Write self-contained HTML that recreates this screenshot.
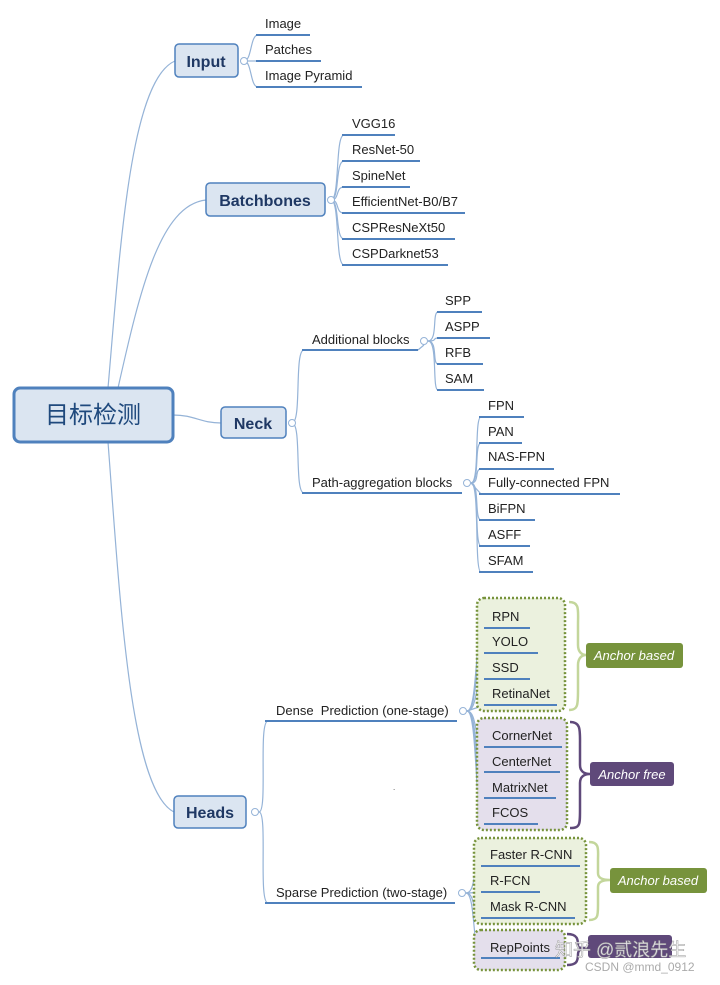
<!DOCTYPE html>
<html><head><meta charset="utf-8"><style>
html,body{margin:0;padding:0;background:#fff;}
svg text{font-family:"Liberation Sans","Noto Sans CJK SC",sans-serif;}
</style></head><body>
<svg width="720" height="980" viewBox="0 0 720 980" xmlns="http://www.w3.org/2000/svg">
<g fill="none" stroke="#95b3d7" stroke-width="1.2">
<path d="M108 388 C120 250 130 80 175 61"/>
<path d="M118 388 C140 290 160 205 206 200"/>
<path d="M173 415 C195 415 200 423 221 423"/>
<path d="M108 442 C120 600 130 790 174 812"/>
<path d="M244 61 C252 61 250 35 258 35"/><path d="M244 61 L258 61"/><path d="M244 61 C252 61 250 87 258 87"/>
<path d="M331 200 C340 200 335 135 344 135"/><path d="M331 200 C340 200 335 161 344 161"/><path d="M331 200 C340 200 335 187 344 187"/><path d="M331 200 C340 200 335 213 344 213"/><path d="M331 200 C340 200 335 239 344 239"/><path d="M331 200 C340 200 335 265 344 265"/>
<path d="M292 423 C302 423 294 350 304 350"/><path d="M292 423 C302 423 294 493 304 493"/>
<path d="M418 350 L424 345"/>
<path d="M428 341 C438 341 432 312 438 312"/><path d="M428 341 C438 341 432 338 438 338"/><path d="M428 341 C438 341 432 364 438 364"/><path d="M428 341 C438 341 432 390 438 390"/>
<path d="M471 483 C480 483 474 417 481 417"/><path d="M471 483 C480 483 474 443 481 443"/><path d="M471 483 C480 483 474 469 481 469"/><path d="M471 483 L481 494"/><path d="M471 483 C480 483 474 520 481 520"/><path d="M471 483 C480 483 474 546 481 546"/><path d="M471 483 C480 483 474 572 481 572"/>
<path d="M259 812 C268 812 258 721 268 721"/><path d="M259 812 C268 812 258 903 268 903"/>
<path d="M467 711 C478 711 474 628 485 628"/><path d="M467 711 C478 711 474 653 485 653"/><path d="M467 711 C478 711 474 679 485 679"/><path d="M467 711 L485 705"/><path d="M467 711 C478 711 474 747 485 747"/><path d="M467 711 C478 711 474 772 485 772"/><path d="M467 711 C478 711 474 798 485 798"/><path d="M467 711 C478 711 474 824 485 824"/>
<path d="M466 893 C476 893 472 866 482 866"/><path d="M466 893 C476 893 472 892 482 892"/><path d="M466 893 C476 893 472 918 482 918"/><path d="M466 893 C476 893 472 958 482 958"/>
</g>
<rect x="477" y="598" width="88" height="113" rx="7" fill="#ebf1de" stroke="#77933c" stroke-width="2.5" stroke-dasharray="2 2"/>
<rect x="477" y="718" width="90" height="112" rx="7" fill="#e4dfec" stroke="#77933c" stroke-width="2.5" stroke-dasharray="2 2"/>
<rect x="474" y="838" width="112" height="86" rx="7" fill="#ebf1de" stroke="#77933c" stroke-width="2.5" stroke-dasharray="2 2"/>
<rect x="474" y="930" width="91" height="40" rx="7" fill="#e4dfec" stroke="#77933c" stroke-width="2.5" stroke-dasharray="2 2"/>
<g fill="none" stroke-width="2.5">
<path d="M569 602 C580 602 578 610 578 625 L578 645 C578 652 582 655 586 655 C582 655 578 658 578 665 L578 690 C578 705 578 710 569 710" stroke="#c3d69b"/>
<path d="M570 722 C581 722 580 730 580 745 L580 765 C580 771 584 774 590 774 C584 774 580 777 580 783 L580 810 C580 825 580 828 570 828" stroke="#5f497a"/>
<path d="M589 842 C600 842 598 850 598 860 L598 873 C598 878 602 880 610 880 C602 880 598 882 598 887 L598 905 C598 916 598 920 589 920" stroke="#c3d69b"/>
<path d="M567 934 C578 934 578 940 578 946 C578 948 582 948 588 948 C582 948 578 950 578 954 C578 962 576 965 567 965" stroke="#5f497a"/>
</g>
<rect x="586" y="643" width="97" height="25" rx="3" fill="#77933c"/>
<text x="634" y="660" font-size="13" font-style="italic" fill="#fff" text-anchor="middle">Anchor based</text>
<rect x="590" y="762" width="84" height="24" rx="3" fill="#5f497a"/>
<text x="632" y="779" font-size="13" font-style="italic" fill="#fff" text-anchor="middle">Anchor free</text>
<rect x="610" y="868" width="97" height="25" rx="3" fill="#77933c"/>
<text x="658" y="885" font-size="13" font-style="italic" fill="#fff" text-anchor="middle">Anchor based</text>
<rect x="588" y="935" width="84" height="23" rx="3" fill="#5f497a"/>
<rect x="14" y="388" width="159" height="54" rx="6" fill="#dbe5f1" stroke="#4f81bd" stroke-width="3"/>
<text x="93" y="423" font-size="24" fill="#1f497d" text-anchor="middle">目标检测</text>
<rect x="175" y="44" width="63" height="33" rx="4" fill="#dbe5f1" stroke="#4f81bd" stroke-width="1.5"/>
<text x="206" y="67" font-size="16" font-weight="bold" fill="#1f3864" text-anchor="middle">Input</text>
<rect x="206" y="183" width="119" height="33" rx="4" fill="#dbe5f1" stroke="#4f81bd" stroke-width="1.5"/>
<text x="265" y="206" font-size="16" font-weight="bold" fill="#1f3864" text-anchor="middle">Batchbones</text>
<rect x="221" y="407" width="65" height="31" rx="4" fill="#dbe5f1" stroke="#4f81bd" stroke-width="1.5"/>
<text x="253" y="429" font-size="16" font-weight="bold" fill="#1f3864" text-anchor="middle">Neck</text>
<rect x="174" y="796" width="72" height="32" rx="4" fill="#dbe5f1" stroke="#4f81bd" stroke-width="1.5"/>
<text x="210" y="818" font-size="16" font-weight="bold" fill="#1f3864" text-anchor="middle">Heads</text>
<g fill="#fff" stroke="#95b3d7" stroke-width="1">
<circle cx="244" cy="61" r="3.5"/><circle cx="331" cy="200" r="3.5"/><circle cx="292" cy="423" r="3.5"/><circle cx="255" cy="812" r="3.5"/>
<circle cx="424" cy="341" r="3.5"/><circle cx="467" cy="483" r="3.5"/><circle cx="463" cy="711" r="3.5"/><circle cx="462" cy="893" r="3.5"/>
</g>
<g stroke="#4f81bd" stroke-width="2">
<path d="M256 35H310M256 61H321M256 87H362"/>
<path d="M342 135H395M342 161H420M342 187H410M342 213H465M342 239H455M342 265H448"/>
<path d="M302 350H418M302 493H462"/>
<path d="M437 312H482M437 338H490M437 364H483M437 390H484"/>
<path d="M479 417H524M479 443H522M479 469H554M479 494H620M479 520H535M479 546H530M479 572H533"/>
<path d="M265 721H457M265 903H455"/>
<path d="M484 628H530M484 653H538M484 679H530M484 705H557M484 747H562M484 772H560M484 798H556M484 824H538"/>
<path d="M481 866H580M481 892H540M481 918H575M481 958H560"/>
</g>
<g font-size="13" fill="#222">
<text x="265" y="28">Image</text><text x="265" y="54">Patches</text><text x="265" y="80">Image Pyramid</text>
<text x="352" y="128">VGG16</text><text x="352" y="154">ResNet-50</text><text x="352" y="180">SpineNet</text><text x="352" y="206">EfficientNet-B0/B7</text><text x="352" y="232">CSPResNeXt50</text><text x="352" y="258">CSPDarknet53</text>
<text x="312" y="344">Additional blocks</text><text x="312" y="487">Path-aggregation blocks</text>
<text x="445" y="305">SPP</text><text x="445" y="331">ASPP</text><text x="445" y="357">RFB</text><text x="445" y="383">SAM</text>
<text x="488" y="410">FPN</text><text x="488" y="436">PAN</text><text x="488" y="461">NAS-FPN</text><text x="488" y="487">Fully-connected FPN</text><text x="488" y="513">BiFPN</text><text x="488" y="539">ASFF</text><text x="488" y="565">SFAM</text>
<text x="276" y="715">Dense&#160; Prediction (one-stage)</text><text x="276" y="897">Sparse Prediction (two-stage)</text>
<text x="492" y="621">RPN</text><text x="492" y="646">YOLO</text><text x="492" y="672">SSD</text><text x="492" y="698">RetinaNet</text>
<text x="492" y="740">CornerNet</text><text x="492" y="766">CenterNet</text><text x="492" y="792">MatrixNet</text><text x="492" y="817">FCOS</text>
<text x="490" y="859">Faster R-CNN</text><text x="490" y="885">R-FCN</text><text x="490" y="911">Mask R-CNN</text><text x="490" y="952">RepPoints</text>
</g>
<text x="393" y="790" font-size="8" fill="#444">.</text>
<text x="555" y="956" font-size="18" fill="#fff" fill-opacity="0.85" stroke="#999" stroke-width="0.5">知乎 @贰浪先生</text>
<text x="585" y="971" font-size="12" fill="#aaa">CSDN @mmd_0912</text>
</svg>
</body></html>
